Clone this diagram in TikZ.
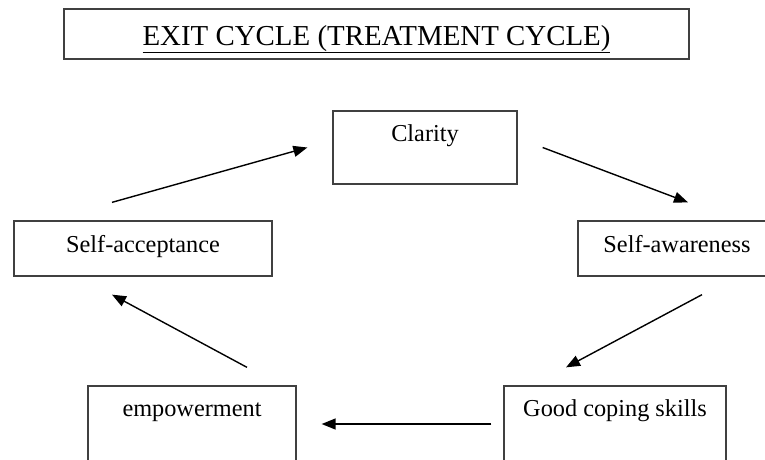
\documentclass[tikz,border=0pt]{standalone}
\usepackage{fontspec}
\setmainfont{Liberation Serif}
\usepackage{tikz}
\usetikzlibrary{arrows.meta,positioning}

\begin{document}
\begin{tikzpicture}[x=1pt,y=-1pt,->,>={Triangle[length=14pt,width=11pt]},line width=1.4pt,
        box/.style={draw=black!75,rectangle,line width=1.3pt,inner sep=0pt,font=\fontsize{24.3}{28}\selectfont},
        stage/.style={box,minimum width=#1,text height=30pt,text depth=43pt},
        wide/.style={box,minimum width=#1,text height=31pt,text depth=24pt}]
        \clip (0,0) rectangle (765,459);
        \useasboundingbox (0,0) rectangle (765,459);

        \node[box,minimum width=625pt,text height=36pt,text depth=14pt,font=\fontsize{28.9}{32}\selectfont]
              (title) at (376.5,34) {\underline{EXIT CYCLE (TREATMENT CYCLE)}};
        \node[stage=184pt] (clarity) at (425,147.5) {Clarity};
        \node[wide=258pt] (accept) at (143,248.5) {Self-acceptance};
        \node[wide=198pt] (aware) at (677,248.5) {Self-awareness};
        \node[stage=208pt,text depth=46pt] (empower) at (192,424) {empowerment};
        \node[stage=222pt,text depth=46pt] (coping) at (615,424) {Good coping skills};

        \draw ([xshift=-31pt,yshift=18pt]accept.north) -- ([xshift=-25pt]clarity.west);
        \draw ([xshift=25pt]clarity.east) -- ([xshift=11pt,yshift=18pt]aware.north);
        \draw ([xshift=25pt,yshift=-18pt]aware.south) -- ([xshift=-49pt,yshift=18pt]coping.north);
        \draw ([xshift=-12pt]coping.west) -- ([xshift=25pt]empower.east);
        \draw ([xshift=55pt,yshift=18pt]empower.north) -- ([xshift=-31pt,yshift=-18pt]accept.south);
\end{tikzpicture}
\end{document}
